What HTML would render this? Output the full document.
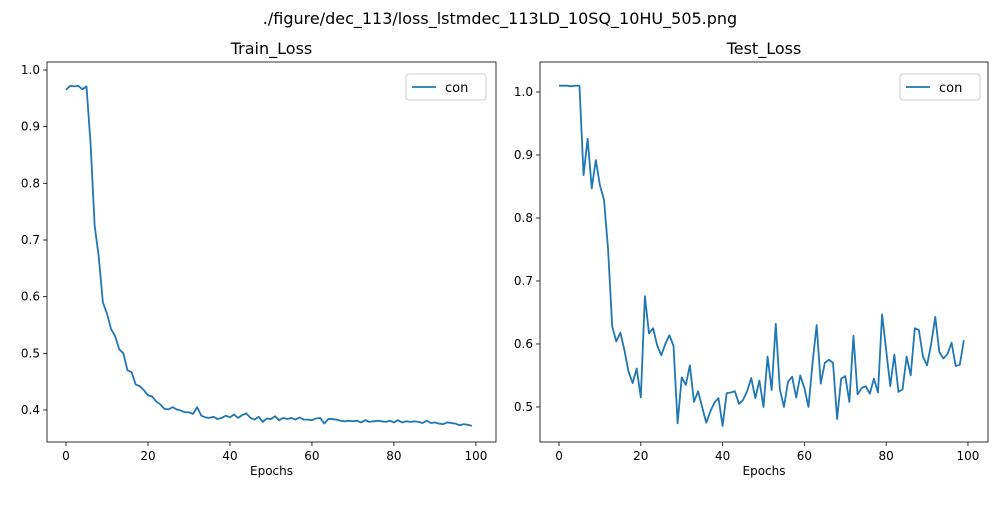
<!DOCTYPE html>
<html><head><meta charset="utf-8"><style>
body{margin:0;background:#fff;font-family:"Liberation Sans","DejaVu Sans",sans-serif;}
svg text{font-family:"DejaVu Sans","Liberation Sans",sans-serif;}
</style></head><body>
<svg id="c" width="1000" height="500">
<text x="500" y="24" text-anchor="middle" font-size="16">./figure/dec_113/loss_lstmdec_113LD_10SQ_10HU_505.png</text>
</svg>
<script>
const epochs = Array.from({length:100},(_,i)=>i);
const trainLoss = [0.965,0.972,0.971,0.972,0.966,0.971,0.87,0.725,0.67,0.59,0.57,0.543,0.53,0.507,0.5,0.47,0.467,0.445,0.442,0.435,0.426,0.424,0.415,0.41,0.402,0.401,0.405,0.401,0.399,0.396,0.396,0.393,0.405,0.39,0.387,0.386,0.388,0.384,0.386,0.39,0.387,0.392,0.386,0.391,0.394,0.386,0.383,0.388,0.379,0.385,0.384,0.389,0.382,0.386,0.384,0.386,0.383,0.387,0.383,0.383,0.382,0.385,0.386,0.376,0.384,0.384,0.383,0.381,0.38,0.381,0.38,0.381,0.378,0.382,0.379,0.38,0.381,0.38,0.379,0.381,0.378,0.382,0.378,0.38,0.379,0.38,0.379,0.377,0.381,0.377,0.378,0.376,0.375,0.378,0.377,0.376,0.373,0.375,0.374,0.372];
const testLoss = [1.01,1.01,1.01,1.009,1.01,1.01,0.868,0.926,0.847,0.892,0.852,0.829,0.75,0.628,0.604,0.618,0.59,0.556,0.538,0.561,0.515,0.676,0.617,0.625,0.598,0.582,0.6,0.614,0.597,0.474,0.547,0.535,0.566,0.508,0.525,0.5,0.475,0.493,0.507,0.514,0.47,0.522,0.523,0.525,0.505,0.511,0.525,0.546,0.514,0.542,0.5,0.58,0.527,0.632,0.528,0.5,0.54,0.548,0.515,0.55,0.53,0.5,0.57,0.63,0.537,0.57,0.575,0.57,0.481,0.545,0.549,0.508,0.613,0.52,0.53,0.533,0.521,0.545,0.523,0.647,0.59,0.533,0.583,0.524,0.528,0.58,0.55,0.625,0.622,0.58,0.566,0.6,0.643,0.587,0.577,0.584,0.602,0.565,0.567,0.606];
const xTicks = [0,20,40,60,80,100];
const trainYTicks = [0.4,0.5,0.6,0.7,0.8,0.9,1.0];
const testYTicks = [0.5,0.6,0.7,0.8,0.9,1.0];
const NS='http://www.w3.org/2000/svg';
const svg=document.getElementById('c');
function mk(t,a,p){const e=document.createElementNS(NS,t);for(const k in a)e.setAttribute(k,a[k]);(p||svg).appendChild(e);return e;}
function panel(name,L,R,T,B,x0,x1,y0,y1,vals,yt,title,lx){
  const g=mk('g',{});
  
  
  const sx=v=>L+(v-x0)/(x1-x0)*(R-L), sy=v=>B-(v-y0)/(y1-y0)*(B-T);
  const tt=mk('text',{x:(L+R)/2,y:T-8,'text-anchor':'middle','font-size':16},g);tt.textContent=title;
  
  
  xTicks.forEach(v=>{const x=sx(v);mk('line',{x1:x,x2:x,y1:B,y2:B+4,stroke:'#000','stroke-width':0.8},g);
    const t=mk('text',{x:x,y:B+18,'text-anchor':'middle','font-size':12},g);t.textContent=v;
    
    });
  yt.forEach(v=>{const y=sy(v);mk('line',{x1:L-4,x2:L,y1:y,y2:y,stroke:'#000','stroke-width':0.8},g);
    const t=mk('text',{x:L-7,y:y+4,'text-anchor':'end','font-size':12},g);t.textContent=v.toFixed(1);
    
    });
  const xl=mk('text',{x:(L+R)/2,y:B+33,'text-anchor':'middle','font-size':12},g);xl.textContent='Epochs';
  
  
  const d=vals.map((v,i)=>(i?'L':'M')+sx(epochs[i]).toFixed(2)+','+sy(v).toFixed(2)).join('');
  const ln=mk('path',{d:d,fill:'none',stroke:'#1f77b4','stroke-width':1.8,'stroke-linejoin':'round'},g);
  
  
  mk('rect',{x:L,y:T,width:R-L,height:B-T,fill:'none',stroke:'#000','stroke-width':0.8},g);
  const lg=mk('g',{},g);
  
  
  mk('rect',{x:lx,y:T+12,width:80,height:26,rx:3,fill:'#fff',stroke:'#ccc','stroke-width':1},lg);
  mk('line',{x1:lx+6,x2:lx+30,y1:T+25,y2:T+25,stroke:'#1f77b4','stroke-width':1.8},lg);
  const lt=mk('text',{x:lx+39,y:T+30,'font-size':13},lg);lt.textContent='con';
}
panel('train',47,496,62,442,-4.63,104.9,0.3435,1.0141,trainLoss,trainYTicks,'Train_Loss',406);
panel('test',540,988,62,442,-4.65,104.9,0.4444,1.0476,testLoss,testYTicks,'Test_Loss',900);
</script>
</body></html>
